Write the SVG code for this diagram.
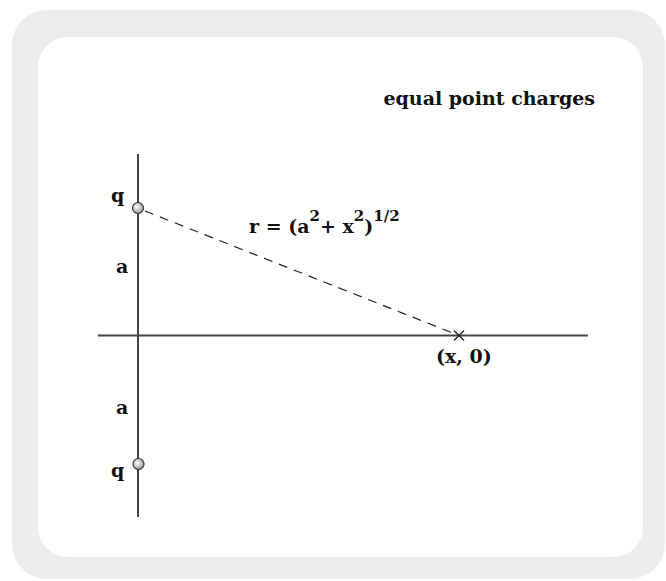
<svg xmlns="http://www.w3.org/2000/svg" width="666" height="581" viewBox="0 0 666 581">
<style>
.lbl{font-family:"DejaVu Serif","Liberation Serif",serif;font-weight:bold;font-size:19px;fill:#111}
.axis{stroke:#444;stroke-width:2;fill:none}
.dash{stroke:#222;stroke-width:1.2;stroke-dasharray:9 7;fill:none}
.chg{fill:url(#g);stroke:#333;stroke-width:1.2}
</style>
<defs>
<radialGradient id="g" cx="0.4" cy="0.4" r="0.6">
<stop offset="0" stop-color="#ffffff"/>
<stop offset="1" stop-color="#999999"/>
</radialGradient>
</defs>
<rect x="12" y="10" width="653" height="569" rx="35" fill="#ededed"/>
<rect x="38" y="37" width="605" height="520" rx="30" fill="#ffffff"/>
<g id="connectors">
<line class="axis" x1="98" y1="335.5" x2="588" y2="335.5"/>
<line class="axis" x1="138" y1="154" x2="138" y2="517"/>
<line class="dash" x1="145" y1="211" x2="459" y2="335.5"/>
</g>
<g id="title"><text class="lbl" x="595" y="105" text-anchor="end" font-size="20">equal point charges</text></g>
<g id="chargeTop">
<circle class="chg" cx="138" cy="208" r="5.5"/>
<text class="lbl" x="111" y="202">q</text>
</g>
<g id="chargeBottom">
<circle class="chg" cx="138.5" cy="464" r="5.5"/>
<text class="lbl" x="111" y="477">q</text>
</g>
<g id="labelA1"><text class="lbl" x="116" y="273">a</text></g>
<g id="labelA2"><text class="lbl" x="116" y="414">a</text></g>
<g id="point">
<path d="M454 330.5 L464 340.5 M464 330.5 L454 340.5" stroke="#222" stroke-width="1.3"/>
<text class="lbl" x="436" y="363" font-size="18">(x, 0)</text>
</g>
<g id="formula">
<text class="lbl" x="249" y="233">r = (a<tspan dy="-12" font-size="15">2</tspan><tspan dy="12">+ x</tspan><tspan dy="-12" font-size="15">2</tspan><tspan dy="12">)</tspan><tspan dy="-12" font-size="15">1/2</tspan></text>
</g>
</svg>
